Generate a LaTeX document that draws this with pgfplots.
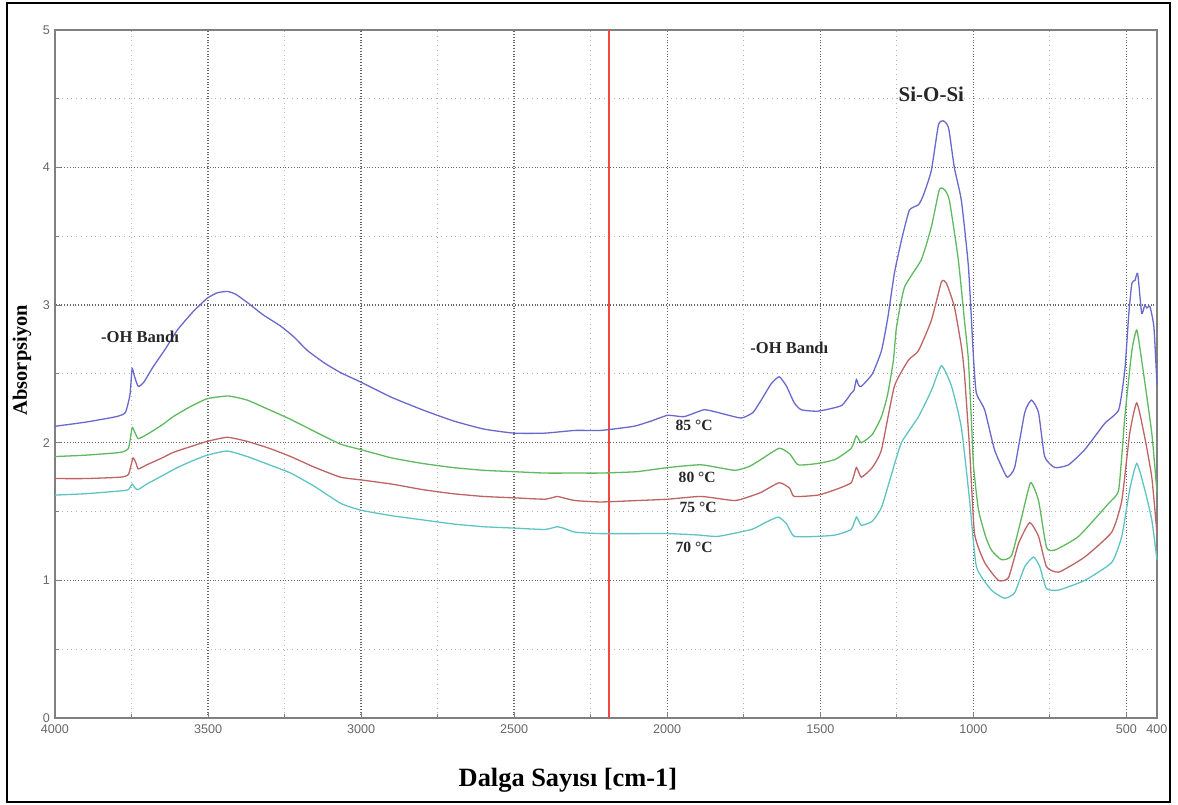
\documentclass[border=0pt]{standalone}
\usepackage{pgfplots}
\pgfplotsset{compat=1.18}
\usepackage{fontspec}
\setmainfont{Liberation Serif}
\newfontfamily\tickfont{Liberation Sans}
\definecolor{cblue}{RGB}{105,105,205}
\definecolor{cgreen}{RGB}{95,185,95}
\definecolor{cred}{RGB}{190,100,100}
\definecolor{ccyan}{RGB}{95,195,195}
\definecolor{vline}{RGB}{245,70,70}
\begin{document}
\begin{tikzpicture}
\begin{axis}[
  scale only axis, width=551pt, height=344pt,
  x dir=reverse, xmin=400, xmax=4000, ymin=0, ymax=5,
  xtick={4000,3500,3000,2500,2000,1500,1000,500,400},
  minor xtick={3750,3250,2750,2250,1750,1250,750},
  ytick={0,1,2,3,4,5}, minor ytick={0.5,1.5,2.5,3.5,4.5},
  grid=both,
  major grid style={densely dotted, black!60, line width=0.7pt},
  minor grid style={dotted, black!30, line width=0.5pt},
  axis line style={black!50, line width=1pt},
  tick style={black!50, line width=0.5pt},
  major tick length=3pt, minor tick length=2pt,
  tick align=inside, xtick pos=bottom, ytick pos=left,
  ticklabel style={font=\tickfont\fontsize{6.3}{7}\selectfont, text=black!60},
  /pgf/number format/assume math mode=true,
  /pgf/number format/1000 sep={},
  yticklabel style={xshift=1pt},
  clip=false,
  every axis plot/.append style={smooth, tension=0.3},
]
\addplot[vline, line width=0.7pt, sharp plot] coordinates {(2190,0) (2190,5)};

% 85 C
\addplot[cblue, line width=0.65pt] coordinates {
(4000,2.12) (3900,2.15) (3800,2.19) (3770,2.22) (3755,2.35) (3748,2.54) (3740,2.48) (3728,2.41) (3710,2.44) (3680,2.55) (3640,2.68) (3600,2.82) (3550,2.95) (3503,3.05) (3470,3.09) (3437,3.10) (3410,3.08) (3372,3.02) (3320,2.93) (3264,2.85) (3220,2.77) (3175,2.67) (3120,2.58) (3067,2.51) (3000,2.44) (2900,2.33) (2800,2.24) (2700,2.16) (2600,2.10) (2500,2.07) (2400,2.07) (2300,2.09) (2217,2.09) (2109,2.12) (2050,2.16) (1998,2.20) (1945,2.19) (1880,2.24) (1834,2.22) (1759,2.18) (1720,2.22) (1693,2.31) (1660,2.43) (1634,2.48) (1610,2.41) (1585,2.29) (1562,2.24) (1507,2.23) (1431,2.27) (1399,2.36) (1390,2.38) (1382,2.46) (1375,2.42) (1366,2.41) (1330,2.50) (1300,2.67) (1280,2.90) (1258,3.23) (1235,3.47) (1209,3.69) (1179,3.73) (1163,3.80) (1137,3.98) (1114,4.31) (1098,4.34) (1081,4.29) (1062,4.00) (1039,3.76) (1016,3.28) (999,2.60) (990,2.36) (963,2.24) (931,1.95) (900,1.79) (888,1.75) (865,1.82) (832,2.22) (810,2.31) (787,2.22) (767,1.90) (734,1.82) (689,1.84) (636,1.95) (571,2.14) (525,2.24) (505,2.53) (492,2.94) (482,3.16) (472,3.18) (463,3.23) (450,2.94) (440,3.00) (433,2.98) (423,2.99) (410,2.84) (400,2.42)
};
% 80 C
\addplot[cgreen, line width=0.65pt] coordinates {
(4000,1.90) (3900,1.91) (3787,1.93) (3760,1.96) (3748,2.11) (3740,2.08) (3728,2.03) (3700,2.06) (3650,2.13) (3614,2.19) (3560,2.26) (3503,2.32) (3434,2.34) (3372,2.31) (3300,2.24) (3230,2.17) (3150,2.08) (3067,1.99) (3000,1.95) (2900,1.89) (2800,1.85) (2700,1.82) (2600,1.80) (2500,1.79) (2400,1.78) (2300,1.78) (2217,1.78) (2100,1.79) (1998,1.82) (1889,1.84) (1780,1.80) (1730,1.83) (1693,1.88) (1634,1.96) (1600,1.92) (1572,1.84) (1507,1.85) (1450,1.88) (1399,1.96) (1382,2.05) (1366,2.00) (1330,2.06) (1300,2.19) (1280,2.35) (1261,2.60) (1251,2.84) (1225,3.13) (1170,3.33) (1137,3.57) (1111,3.84) (1094,3.84) (1078,3.76) (1049,3.33) (1029,2.89) (1016,2.60) (1005,2.10) (999,1.82) (983,1.51) (960,1.32) (941,1.22) (908,1.15) (875,1.18) (842,1.46) (813,1.71) (787,1.58) (761,1.24) (734,1.22) (656,1.32) (558,1.56) (525,1.66) (505,2.19) (482,2.67) (466,2.82) (450,2.60) (417,2.07) (400,1.64)
};
% 75 C
\addplot[cred, line width=0.65pt] coordinates {
(4000,1.74) (3900,1.74) (3787,1.75) (3760,1.77) (3745,1.89) (3735,1.85) (3728,1.81) (3700,1.84) (3650,1.89) (3614,1.93) (3560,1.97) (3503,2.01) (3437,2.04) (3372,2.01) (3300,1.96) (3230,1.90) (3150,1.82) (3067,1.75) (3000,1.73) (2900,1.70) (2800,1.66) (2700,1.63) (2600,1.61) (2500,1.60) (2400,1.59) (2360,1.61) (2340,1.60) (2300,1.58) (2217,1.57) (2100,1.58) (1998,1.59) (1889,1.61) (1780,1.58) (1730,1.61) (1693,1.64) (1634,1.71) (1600,1.67) (1585,1.61) (1507,1.62) (1450,1.66) (1399,1.71) (1382,1.82) (1366,1.75) (1330,1.82) (1300,1.95) (1258,2.41) (1212,2.60) (1179,2.67) (1137,2.89) (1104,3.17) (1088,3.16) (1062,2.99) (1039,2.70) (1029,2.50) (1012,1.95) (996,1.34) (963,1.13) (918,1.00) (885,1.02) (852,1.27) (816,1.42) (787,1.32) (761,1.10) (721,1.06) (636,1.17) (548,1.35) (515,1.58) (489,2.07) (466,2.29) (440,2.04) (417,1.75) (400,1.34)
};
% 70 C
\addplot[ccyan, line width=0.65pt] coordinates {
(4000,1.62) (3900,1.63) (3787,1.65) (3760,1.66) (3748,1.70) (3738,1.67) (3728,1.66) (3700,1.70) (3650,1.76) (3600,1.82) (3550,1.87) (3503,1.91) (3437,1.94) (3372,1.90) (3300,1.84) (3230,1.78) (3150,1.68) (3067,1.56) (3000,1.51) (2900,1.47) (2800,1.44) (2700,1.41) (2600,1.39) (2500,1.38) (2400,1.37) (2360,1.39) (2340,1.38) (2300,1.35) (2217,1.34) (2100,1.34) (1998,1.34) (1900,1.33) (1834,1.32) (1725,1.37) (1680,1.42) (1637,1.46) (1610,1.41) (1585,1.32) (1507,1.32) (1450,1.33) (1399,1.37) (1382,1.46) (1366,1.40) (1330,1.43) (1300,1.53) (1270,1.75) (1235,2.00) (1179,2.19) (1137,2.38) (1104,2.56) (1071,2.41) (1039,2.11) (1012,1.58) (990,1.10) (941,0.93) (898,0.87) (865,0.91) (832,1.10) (803,1.17) (783,1.10) (761,0.94) (721,0.93) (636,1.00) (548,1.13) (515,1.32) (489,1.66) (466,1.85) (440,1.66) (417,1.44) (400,1.15)
};

\node[font=\bfseries\fontsize{8.3}{10}\selectfont, text=black!85] at (axis cs:3722,2.77) {-OH Bandı};
\node[font=\bfseries\fontsize{8.3}{10}\selectfont, text=black!85] at (axis cs:1601,2.69) {-OH Bandı};
\node[font=\bfseries\fontsize{10.5}{12}\selectfont, text=black!85] at (axis cs:1137,4.53) {Si-O-Si};
\node[font=\bfseries\fontsize{7.8}{9}\selectfont, text=black!85] at (axis cs:1912,2.13) {85 °C};
\node[font=\bfseries\fontsize{7.8}{9}\selectfont, text=black!85] at (axis cs:1902,1.75) {80 °C};
\node[font=\bfseries\fontsize{7.8}{9}\selectfont, text=black!85] at (axis cs:1899,1.53) {75 °C};
\node[font=\bfseries\fontsize{7.8}{9}\selectfont, text=black!85] at (axis cs:1912,1.24) {70 °C};

\node[font=\bfseries\fontsize{13.2}{15}\selectfont] at (rel axis cs:0.4655,-0.090) {Dalga Sayısı [cm-1]};
\node[rotate=90, font=\bfseries\fontsize{10.2}{12}\selectfont] at (rel axis cs:-0.030,0.520) {Absorpsiyon};
\end{axis}
\draw[black, line width=1pt] ([xshift=-24pt,yshift=-42pt]current axis.south west) rectangle ([xshift=6.5pt,yshift=13.5pt]current axis.north east);
\path[use as bounding box] ([xshift=-27.5pt,yshift=-43.5pt]current axis.south west) rectangle ([xshift=10.5pt,yshift=15pt]current axis.north east);
\end{tikzpicture}
\end{document}
